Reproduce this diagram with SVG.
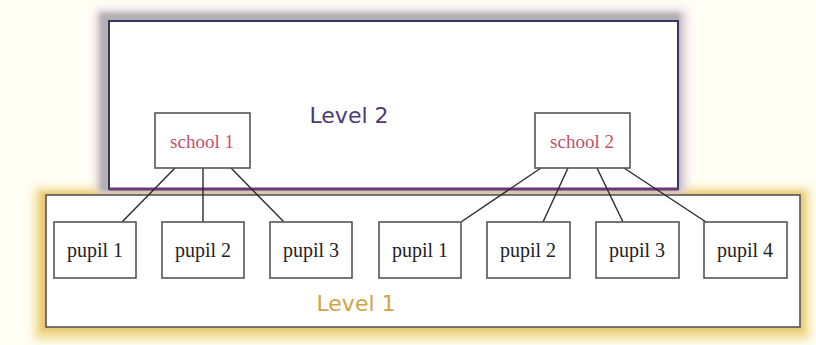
<svg xmlns="http://www.w3.org/2000/svg" width="816" height="345" viewBox="0 0 816 345">
<defs>
<filter id="blur" x="-10%" y="-20%" width="120%" height="140%"><feGaussianBlur stdDeviation="4"/></filter>
<filter id="blur2" x="-10%" y="-20%" width="120%" height="140%"><feGaussianBlur stdDeviation="2"/></filter>
</defs>
<style>
.node rect{fill:#fff;stroke:#555;stroke-width:1.6}
.pupil text{font-family:"Liberation Serif",serif;font-size:20px;fill:#222;text-anchor:middle}
.school text{font-family:"Liberation Serif",serif;font-size:19px;fill:#c4506e;text-anchor:middle}
#connectors line{stroke:#2a2a2a;stroke-width:1.4}
.lvl{font-family:"DejaVu Sans",sans-serif;font-size:22px;text-anchor:middle}
</style>
<rect width="816" height="345" fill="#fffef4"/>
<!-- glows -->
<rect x="34" y="188" width="776" height="152" fill="#f2e09a" filter="url(#blur)"/>
<rect x="40" y="192" width="764" height="140" fill="#e9c77a" filter="url(#blur2)"/>
<rect x="96" y="10" width="590" height="184" fill="#dccbd8" filter="url(#blur)"/>
<rect x="100" y="13" width="580" height="178" fill="#b0b0b0" filter="url(#blur2)"/>
<!-- Level 2 -->
<g id="level2">
<rect x="109" y="21" width="569" height="168" fill="#fff" stroke="#3a3560" stroke-width="2"/>
<line x1="109" y1="189" x2="678" y2="189" stroke="#6b3b6e" stroke-width="3"/>
<text class="lvl" x="349" y="123" fill="#4a3a78">Level 2</text>
</g>
<!-- Level 1 -->
<g id="level1">
<rect x="46" y="195" width="754" height="132" fill="#fff" stroke="#555" stroke-width="1.6"/>
<text class="lvl" x="356" y="311" fill="#d0a448">Level 1</text>
</g>
<g id="connectors">
<line x1="175" y1="168" x2="122" y2="222"/>
<line x1="203" y1="168" x2="203" y2="222"/>
<line x1="231" y1="168" x2="284" y2="222"/>
<line x1="541" y1="168" x2="461" y2="222"/>
<line x1="568" y1="168" x2="543" y2="222"/>
<line x1="597" y1="168" x2="623" y2="222"/>
<line x1="624" y1="168" x2="706" y2="222"/>
</g>
<g id="school1" class="node school"><rect x="155" y="113" width="95" height="55"/><text x="202" y="148">school 1</text></g>
<g id="school2" class="node school"><rect x="535" y="113" width="95" height="55"/><text x="582" y="148">school 2</text></g>
<g id="pupil1a" class="node pupil"><rect x="54" y="222" width="82" height="56"/><text x="95" y="257">pupil 1</text></g>
<g id="pupil2a" class="node pupil"><rect x="162" y="222" width="82" height="56"/><text x="203" y="257">pupil 2</text></g>
<g id="pupil3a" class="node pupil"><rect x="270" y="222" width="82" height="56"/><text x="311" y="257">pupil 3</text></g>
<g id="pupil1b" class="node pupil"><rect x="379" y="222" width="82" height="56"/><text x="420" y="257">pupil 1</text></g>
<g id="pupil2b" class="node pupil"><rect x="487" y="222" width="83" height="56"/><text x="528" y="257">pupil 2</text></g>
<g id="pupil3b" class="node pupil"><rect x="596" y="222" width="83" height="56"/><text x="637" y="257">pupil 3</text></g>
<g id="pupil4" class="node pupil"><rect x="704" y="222" width="83" height="56"/><text x="745" y="257">pupil 4</text></g>
</svg>
